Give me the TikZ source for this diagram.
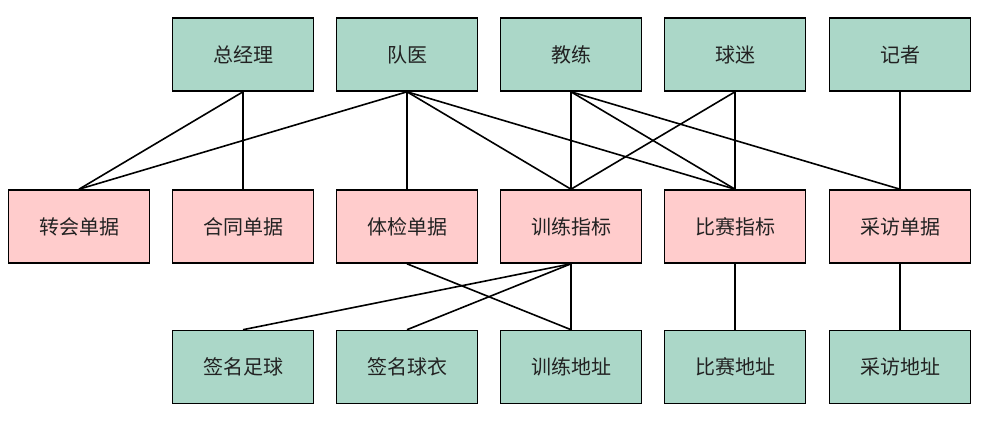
\documentclass[tikz,border=0pt]{standalone}
\usepackage{fontspec}
\newfontfamily\cjk{Noto Sans CJK SC}
\definecolor{gfill}{HTML}{ABD7C8}
\definecolor{pfill}{HTML}{FFCCCC}
\definecolor{txt}{HTML}{222222}
\tikzset{
  box/.style={draw=black, line width=1.6pt, minimum width=141pt, minimum height=73pt, inner sep=0pt, font=\cjk\fontsize{20}{24}\selectfont, text=txt},
  gbox/.style={box, fill=gfill},
  pbox/.style={box, fill=pfill},
  link/.style={draw=black, line width=1.6pt}
}
\begin{document}
\begin{tikzpicture}[x=1pt,y=-1pt]
\useasboundingbox (0,0) rectangle (986,424);
% top row
\node[gbox] (zjl) at (243,54.5) {总经理};
\node[gbox] (dy) at (407,54.5) {队医};
\node[gbox] (jl) at (571,54.5) {教练};
\node[gbox] (qm) at (735,54.5) {球迷};
\node[gbox] (jz) at (900,54.5) {记者};
% middle row
\node[pbox] (zh) at (79,226.5) {转会单据};
\node[pbox] (ht) at (243,226.5) {合同单据};
\node[pbox] (tj) at (407,226.5) {体检单据};
\node[pbox] (xl) at (571,226.5) {训练指标};
\node[pbox] (bs) at (735,226.5) {比赛指标};
\node[pbox] (cf) at (900,226.5) {采访单据};
% bottom row
\node[gbox] (zq) at (243,367) {签名足球};
\node[gbox] (qy) at (407,367) {签名球衣};
\node[gbox] (xd) at (571,367) {训练地址};
\node[gbox] (bd) at (735,367) {比赛地址};
\node[gbox] (cd) at (900,367) {采访地址};
% links top -> middle
\draw[link] (zjl.south) -- (zh.north);
\draw[link] (zjl.south) -- (ht.north);
\draw[link] (dy.south) -- (zh.north);
\draw[link] (dy.south) -- (tj.north);
\draw[link] (dy.south) -- (xl.north);
\draw[link] (dy.south) -- (bs.north);
\draw[link] (jl.south) -- (xl.north);
\draw[link] (jl.south) -- (bs.north);
\draw[link] (jl.south) -- (cf.north);
\draw[link] (qm.south) -- (xl.north);
\draw[link] (qm.south) -- (bs.north);
\draw[link] (jz.south) -- (cf.north);
% links middle -> bottom
\draw[link] (tj.south) -- (xd.north);
\draw[link] (xl.south) -- (zq.north);
\draw[link] (xl.south) -- (qy.north);
\draw[link] (xl.south) -- (xd.north);
\draw[link] (bs.south) -- (bd.north);
\draw[link] (cf.south) -- (cd.north);
\end{tikzpicture}
\end{document}
